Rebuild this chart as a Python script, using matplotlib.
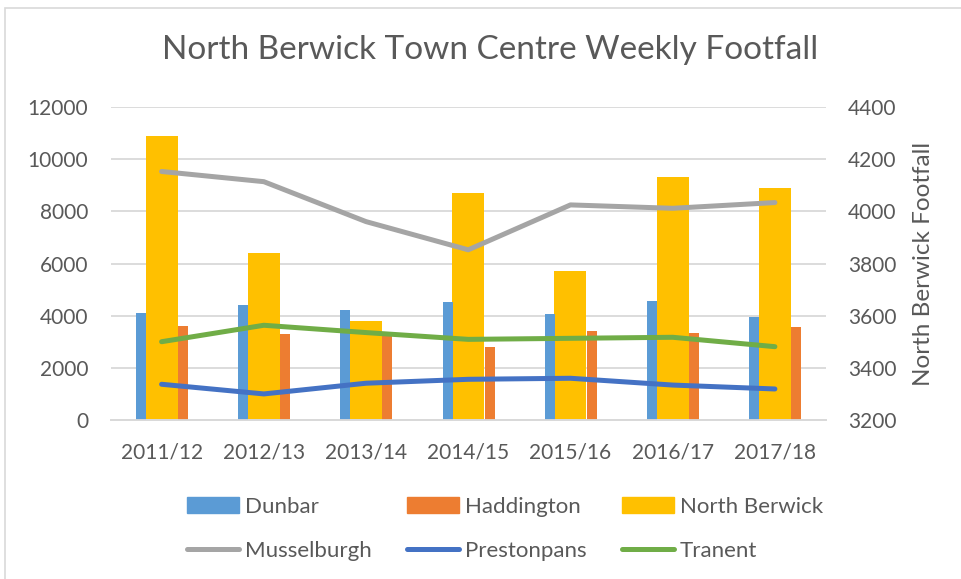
import matplotlib.pyplot as plt
import numpy as np
from matplotlib.lines import Line2D
from matplotlib.patches import Patch, Rectangle

years = ["2011/12", "2012/13", "2013/14", "2014/15", "2015/16", "2016/17", "2017/18"]
dunbar = [4100, 4420, 4230, 4530, 4060, 4560, 3970]
haddington = [3620, 3310, 3400, 2820, 3420, 3350, 3560]
north_berwick = [4290, 3840, 3580, 4070, 3770, 4130, 4090]
musselburgh = [9530, 9140, 7610, 6530, 8250, 8120, 8340]
prestonpans = [1380, 1010, 1420, 1570, 1610, 1350, 1200]
tranent = [3010, 3640, 3360, 3100, 3140, 3180, 2820]

TEXT = "#595959"
GRID = "#D9D9D9"
FONT = "Lato"

plt.rcParams["font.family"] = [FONT, "DejaVu Sans"]

fig = plt.figure(figsize=(9.61, 5.79), dpi=100)
ax = fig.add_axes([110.5 / 961, 1 - 420.3 / 579, 715.5 / 961, 313.3 / 579])
ax2 = ax.twinx()

# secondary axis sits underneath so lines draw over the North Berwick bars
ax.set_zorder(ax2.get_zorder() + 1)
ax.patch.set_visible(False)

x = np.arange(len(years))

ax2.bar(x, north_berwick, width=0.313, color="#FFC000", zorder=2)
ax2.set_ylim(3200, 4400)
ax2.set_yticks(np.arange(3200, 4401, 200))
ax2.set_axisbelow(True)
ax2.grid(axis="y", color=GRID, linewidth=1.3)
ax2.set_ylabel("North Berwick Footfall", color=TEXT, fontsize=17.5, labelpad=12)

ax.bar(x - 0.202, dunbar, width=0.098, color="#5B9BD5")
ax.bar(x + 0.208, haddington, width=0.098, color="#ED7D31")
line_kw = dict(linewidth=3.6, solid_capstyle="round", solid_joinstyle="round")
ax.plot(x, musselburgh, color="#A5A5A5", **line_kw)
ax.plot(x, prestonpans, color="#4472C4", **line_kw)
ax.plot(x, tranent, color="#70AD47", **line_kw)

ax.set_ylim(0, 12000)
ax.set_yticks(np.arange(0, 12001, 2000))
ax.set_xlim(-0.5, len(years) - 0.5)
ax.set_xticks(x)
ax.set_xticklabels(years)

for a in (ax, ax2):
    for side in ("top", "left", "right"):
        a.spines[side].set_visible(False)
    a.spines["bottom"].set_color(GRID)
    a.spines["bottom"].set_linewidth(1.3)
    a.tick_params(length=0, labelcolor=TEXT, labelsize=15)
ax.tick_params(axis="y", pad=16)
ax2.tick_params(axis="y", pad=16)
ax.tick_params(axis="x", pad=16)

fig.text(490 / 961, 1 - 50 / 579, "North Berwick Town Centre Weekly Footfall",
         ha="center", va="center", fontsize=24, color=TEXT)

handles = [
    Patch(color="#5B9BD5", label="Dunbar"),
    Line2D([], [], color="#A5A5A5", label="Musselburgh", **line_kw),
    Patch(color="#ED7D31", label="Haddington"),
    Line2D([], [], color="#4472C4", label="Prestonpans", **line_kw),
    Patch(color="#FFC000", label="North Berwick"),
    Line2D([], [], color="#70AD47", label="Tranent", **line_kw),
]
leg = fig.legend(handles=handles, ncol=3, loc="center", frameon=False,
                 bbox_to_anchor=(505 / 961, 1 - 529 / 579),
                 fontsize=16, handlelength=2.35, handleheight=0.75,
                 handletextpad=0.25, columnspacing=1.6, labelspacing=1.1)
for t in leg.get_texts():
    t.set_color(TEXT)

fig.patches.append(Rectangle((5 / 961, -0.1), 1.1, 1.1 - 8 / 579,
                             transform=fig.transFigure, fill=False,
                             edgecolor=GRID, linewidth=1.2))

fig.savefig("out.png", dpi=100)
